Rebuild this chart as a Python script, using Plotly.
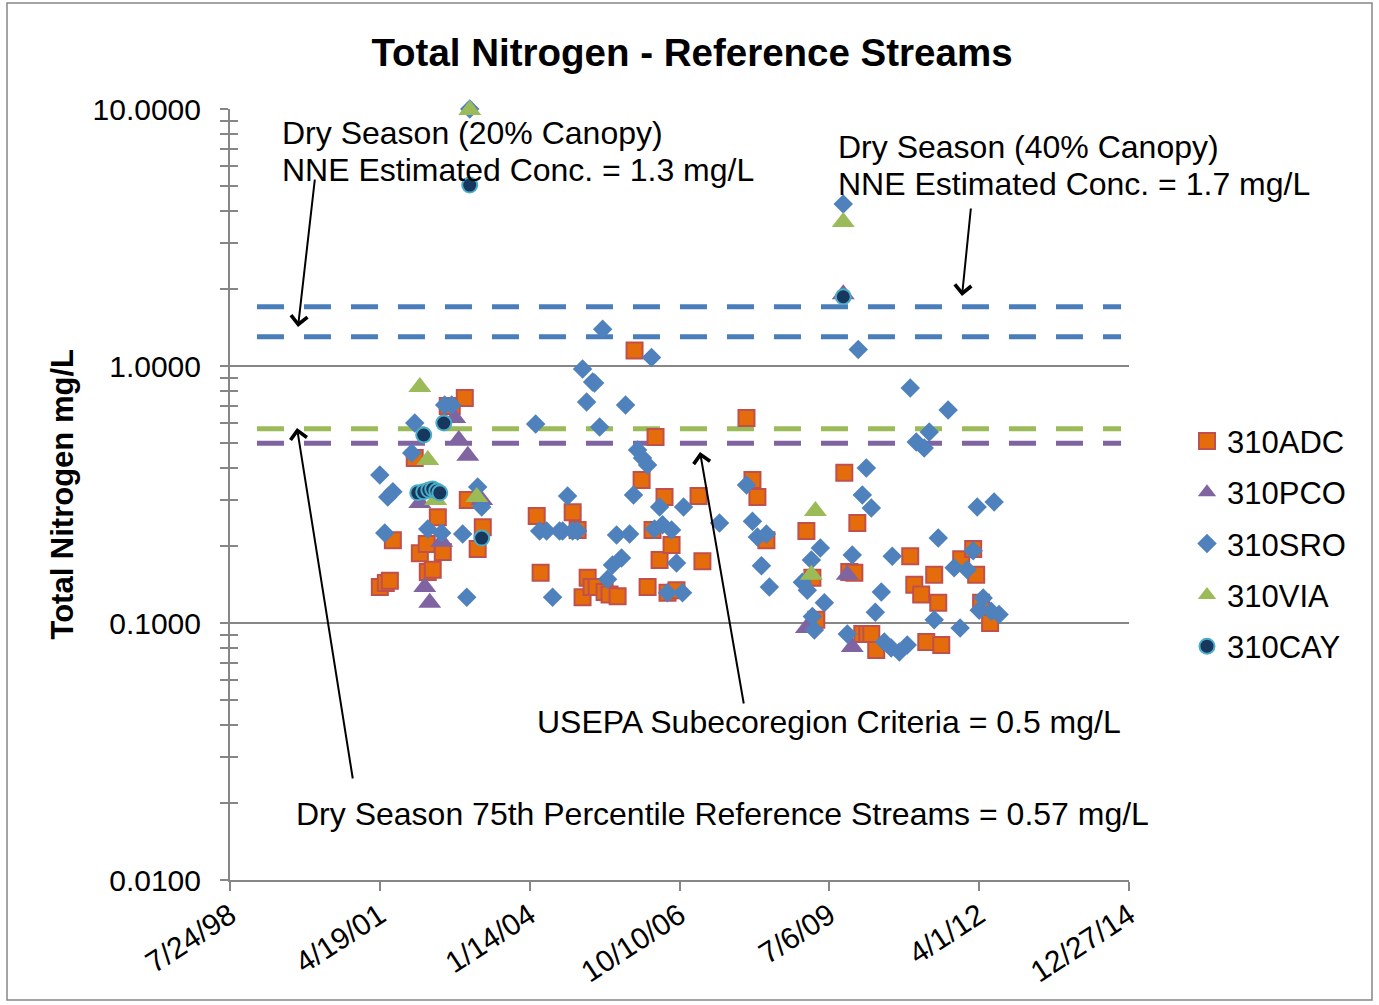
import numpy as np
import pandas as pd
import plotly.graph_objects as go

# Sample dates are stored as Excel serial day numbers; concentrations in mg/L
ADC_DATE = [37000, 37040, 37067, 37087, 37233, 37267, 37313, 37320, 37353, 37387, 37420, 37453, 37480, 37567, 37587, 37653, 37687,
            38047, 38073, 38287, 38320, 38353, 38387, 38413, 38447, 38500, 38533, 38587, 38700, 38747, 38787, 38820, 38840, 38867, 38900, 38920, 38947, 38980, 39127, 39153,
            39447, 39487, 39520, 39580, 39847, 39887, 39913, 40100, 40133, 40167, 40187, 40220, 40253, 40280, 40313, 40540, 40567, 40613, 40647, 40700, 40727, 40747, 40880, 40960, 40980, 41013, 41073]
ADC_TN = [0.138, 0.143, 0.146, 0.210, 0.439, 0.187, 0.203, 0.158, 0.161, 0.258, 0.189, 0.699, 0.699, 0.751, 0.301, 0.194, 0.236,
          0.261, 0.157, 0.270, 0.230, 0.126, 0.150, 0.138, 0.138, 0.132, 0.129, 0.127, 1.15, 0.360, 0.138, 0.230, 0.529, 0.176, 0.309, 0.131, 0.201, 0.134, 0.312, 0.174,
          0.628, 0.360, 0.309, 0.210, 0.228, 0.150, 0.103, 0.384, 0.158, 0.157, 0.245, 0.0906, 0.0906, 0.0906, 0.0785, 0.182, 0.141, 0.129, 0.0843, 0.154, 0.120, 0.0821, 0.177, 0.194, 0.154, 0.120, 0.100]

PCO_DATE = [37267, 37300, 37333, 37413, 37500, 37527, 37587, 37680, 39847, 40093, 40120, 40153]
PCO_TN = [0.293, 0.138, 0.120, 0.207, 0.628, 0.515, 0.447, 0.301, 0.0956, 1.90, 0.154, 0.0807]

SRO_DATE = [37000, 37033, 37053, 37087, 37213, 37233, 37320, 37413, 37433, 37480, 37553, 37580, 37600, 37653, 37680,
            38040, 38067, 38113, 38153, 38200, 38220, 38253, 38287, 38320, 38353, 38380, 38420, 38433, 38467, 38487, 38520, 38553, 38580, 38613, 38640,
            38667, 38693, 38720, 38753, 38787, 38813, 38833, 38867, 38887, 38920, 38947, 38980, 39020, 39027,
            39267, 39447, 39487, 39520, 39547, 39580, 39600, 39820, 39853, 39880, 39887, 39900, 39940, 39967, 40093, 40120, 40153, 40193, 40220, 40247,
            40280, 40307, 40347, 40367, 40413, 40420, 40467, 40520, 40540, 40580, 40633, 40667, 40700, 40727, 40793, 40833, 40873, 40920, 40960, 40987,
            41000, 41027, 41080, 41100, 41133]
SRO_TN = [0.377, 0.224, 0.309, 0.324, 0.459, 0.600, 0.232, 0.224, 0.705, 0.705, 0.222, 0.126, 10.0, 0.338, 0.283,
          0.595, 0.228, 0.228, 0.126, 0.228, 0.228, 0.312, 0.228, 0.228, 0.973, 0.724, 0.866, 0.859, 0.579, 1.39, 0.148, 0.168, 0.220, 0.179, 0.705,
          0.222, 0.315, 0.471, 0.439, 0.412, 1.08, 0.232, 0.283, 0.241, 0.131, 0.230, 0.171, 0.131, 0.283,
          0.245, 0.344, 0.249, 0.216, 0.167, 0.222, 0.138, 0.144, 0.134, 0.176, 0.106, 0.094, 0.196, 0.120, 4.27, 0.0906, 0.184, 1.16, 0.315, 0.401,
          0.280, 0.110, 0.132, 0.0843, 0.0799, 0.182, 0.0771, 0.0821, 0.821, 0.506, 0.480, 0.554, 0.103, 0.214, 0.674, 0.164, 0.0956, 0.161, 0.191, 0.283,
          0.112, 0.125, 0.111, 0.296, 0.108]

VIA_DATE = [37267, 37320, 37373, 37600, 37647, 39880, 39907, 40093]
VIA_TN = [0.829, 0.431, 0.301, 9.9, 0.309, 0.154, 0.273, 3.63]

CAY_DATE = [37253, 37293, 37327, 37353, 37380, 37400, 37293, 37427, 37600, 37680, 40093]
CAY_TN = [0.321, 0.324, 0.329, 0.332, 0.326, 0.321, 0.539, 0.600, 5.06, 0.214, 1.86]

# Criteria / reference levels (mg/L) drawn as dashed lines across the record
LEVEL_VALUES = [1.7, 1.3, 0.57, 0.5]
LEVEL_SPAN = [36180, 41947]

# Date axis: Excel serial ticks every 1000 days
AXIS_SERIALS = [36000, 37000, 38000, 39000, 40000, 41000, 42000]
AXIS_LABELS = ["7/24/98", "4/19/01", "1/14/04", "10/10/06", "7/6/09", "4/1/12", "12/27/14"]
Y_TICKS = [0.01, 0.1, 1.0, 10.0]
Y_LABELS = ["0.0100", "0.1000", "1.0000", "10.0000"]


def to_date(serial):
    return pd.to_datetime(np.asarray(serial, dtype=float), unit="D", origin="1899-12-30")


FONT = "Liberation Sans, Arial, sans-serif"
GRAY = "#868686"
LEVEL_COLORS = ["#4A7EBB", "#4A7EBB", "#9BBB59", "#8064A2"]

fig = go.Figure()

for val, col in zip(LEVEL_VALUES, LEVEL_COLORS):
    fig.add_trace(go.Scatter(
        x=to_date(LEVEL_SPAN), y=[val, val], mode="lines",
        line=dict(color=col, width=5, dash="27px,20px"),
        showlegend=False, hoverinfo="skip"))

series = [
    ("310ADC", ADC_DATE, ADC_TN, dict(symbol="square", size=16, color="#E46C0A", line=dict(color="#C0504D", width=2))),
    ("310PCO", PCO_DATE, PCO_TN, dict(symbol="triangle-up", size=20, color="#8064A2", line=dict(width=0))),
    ("310SRO", SRO_DATE, SRO_TN, dict(symbol="diamond", size=15, color="#4F81BD", line=dict(width=0))),
    ("310VIA", VIA_DATE, VIA_TN, dict(symbol="triangle-up", size=20, color="#9BBB59", line=dict(width=0))),
    ("310CAY", CAY_DATE, CAY_TN, dict(symbol="circle", size=15, color="#17375E", line=dict(color="#4BACC6", width=2))),
]
for name, d, v, mk in series:
    fig.add_trace(go.Scatter(x=to_date(d), y=v, mode="markers", name=name, marker=mk,
                             legendgroup=name, cliponaxis=False))

# empty trace that registers the overlay axis carrying the inner half of the y ticks
fig.add_trace(go.Scatter(x=[], y=[], yaxis="y2", showlegend=False, hoverinfo="skip"))

minor_vals = [m * 10.0 ** e for e in (-2, -1, 0) for m in range(2, 10)]

fig.update_layout(
    width=1379, height=1005, autosize=False,
    margin=dict(l=230, r=250, t=109, b=125),
    paper_bgcolor="white", plot_bgcolor="white",
    font=dict(family=FONT, size=30, color="black"),
    title=dict(text="<b>Total Nitrogen - Reference Streams</b>", x=692 / 1379, xref="container", xanchor="center",
               y=1 - 53 / 1005, yref="container", yanchor="middle", font=dict(size=38.5, family=FONT)),
    xaxis=dict(type="date", range=to_date([36000, 42000]), tickmode="array",
               tickvals=to_date(AXIS_SERIALS), ticktext=AXIS_LABELS, tickangle=-33,
               showgrid=False, zeroline=False, showline=True, linecolor=GRAY, linewidth=2,
               ticks="outside", ticklen=9, tickwidth=2, tickcolor=GRAY, ticklabelstandoff=-5,
               tickfont=dict(size=30, family=FONT)),
    yaxis=dict(type="log", range=[-2, 1], tickmode="array", tickvals=Y_TICKS, ticktext=Y_LABELS,
               showgrid=True, gridcolor=GRAY, gridwidth=2, zeroline=False,
               showline=True, linecolor=GRAY, linewidth=2,
               ticks="outside", ticklen=8, tickwidth=2, tickcolor=GRAY, ticklabelstandoff=13,
               tickfont=dict(size=30, family=FONT),
               minor=dict(tickmode="array", tickvals=minor_vals, ticks="outside", ticklen=8,
                          tickwidth=1.5, tickcolor=GRAY, showgrid=False)),
    yaxis2=dict(type="log", range=[-2, 1], overlaying="y", side="left", tickmode="array", tickvals=Y_TICKS,
                showticklabels=False, showgrid=False, zeroline=False, showline=False,
                ticks="inside", ticklen=8, tickwidth=2, tickcolor=GRAY,
                minor=dict(tickmode="array", tickvals=minor_vals, ticks="inside", ticklen=8,
                           tickwidth=1.5, tickcolor=GRAY, showgrid=False)),
    legend=dict(x=1.0645, xanchor="left", y=0.436, yanchor="middle", traceorder="grouped",
                tracegroupgap=8, font=dict(size=31, family=FONT), bgcolor="rgba(0,0,0,0)"),
    showlegend=True,
)


def px_x(p):
    return (p - 230) / 899


def px_y(p):
    return (880 - p) / 771


# chart border
fig.add_shape(type="rect", xref="paper", yref="paper", x0=px_x(7), x1=px_x(1372), y0=px_y(1000), y1=px_y(3),
              line=dict(color=GRAY, width=1.5), layer="below")

notes = [
    ("Dry Season (20% Canopy)", 280, 133),
    ("NNE Estimated Conc. = 1.3 mg/L", 280, 170),
    ("Dry Season (40% Canopy)", 836, 147),
    ("NNE Estimated Conc. = 1.7 mg/L", 836, 184),
    ("USEPA Subecoregion Criteria = 0.5 mg/L", 535, 722),
    ("Dry Season 75th Percentile Reference Streams = 0.57 mg/L", 294, 814),
]
for txt, xx, yy in notes:
    fig.add_annotation(text=txt, xref="paper", yref="paper", x=px_x(xx), y=px_y(yy),
                       xanchor="left", yanchor="middle", showarrow=False,
                       font=dict(size=32, family=FONT, color="black"))

arrows = [((298, 327), (315, 178)), ((962, 296), (971, 207)), ((700, 452), (744, 705)), ((297, 428), (353, 780))]
for (hx, hy), (tx, ty) in arrows:
    fig.add_annotation(text="", xref="paper", yref="paper", x=px_x(hx), y=px_y(hy),
                       ax=tx - hx, ay=ty - hy, axref="pixel", ayref="pixel",
                       showarrow=True, arrowhead=4, arrowsize=1.6, arrowwidth=2, arrowcolor="black")

fig.add_annotation(text="<b>Total Nitrogen mg/L</b>", xref="paper", yref="paper", x=px_x(62), y=0.5,
                   textangle=-90, showarrow=False, xanchor="center", yanchor="middle",
                   font=dict(size=31, family=FONT, color="black"))

fig.write_html("out.html")
